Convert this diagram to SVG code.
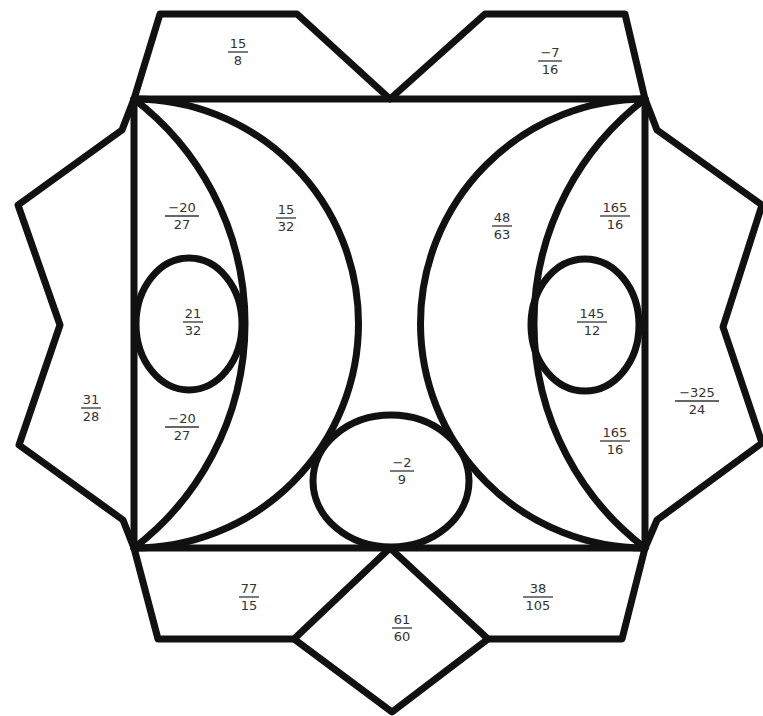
<svg xmlns="http://www.w3.org/2000/svg" width="763" height="716" viewBox="0 0 763 716">
<style>
.s{fill:none;stroke:#111;stroke-width:7;stroke-linejoin:round;stroke-linecap:round}
.t{font-family:"DejaVu Sans",sans-serif;font-size:13px;fill:#333;text-anchor:middle}
.b{stroke:#333;stroke-width:1.3}
</style>
<rect width="763" height="716" fill="#fff"/>
<g id="shapes" class="s">
<path d="M134,99 L160,14 L297,14 L390,99 L485,14 L625,14 L645,99"/>
<rect x="134" y="99" width="511" height="449"/>
<path d="M134,99 L122,130 L18,205 L60,325 L19,445 L123,520 L134,548"/>
<path d="M645,99 L657,130 L762,205 L723,327 L762,443 L657,520 L645,548"/>
<path d="M134,548 L158,639 L294,639 L390,548 L488,639 L622,639 L645,548"/>
<path d="M294,639 L392,712 L488,639"/>
<path d="M134,99 A282.5,282.5 0 0 1 134,548"/>
<path d="M134,99 A224.5,224.5 0 0 1 134,548"/>
<path d="M645,99 A282.5,282.5 0 0 0 645,548"/>
<path d="M645,99 A224.5,224.5 0 0 0 645,548"/>
<ellipse cx="189" cy="324" rx="53" ry="66"/>
<ellipse cx="585" cy="325" rx="54" ry="66"/>
<ellipse cx="391" cy="481" rx="78" ry="66"/>
</g>
<g id="labels">
<g><text class="t" x="238" y="48">15</text><line class="b" x1="228" y1="52" x2="248" y2="52"/><text class="t" x="238" y="65">8</text></g>
<g><text class="t" x="550" y="57">−7</text><line class="b" x1="538" y1="61" x2="562" y2="61"/><text class="t" x="550" y="74">16</text></g>
<g><text class="t" x="182" y="212">−20</text><line class="b" x1="165" y1="216" x2="199" y2="216"/><text class="t" x="182" y="229">27</text></g>
<g><text class="t" x="286" y="214">15</text><line class="b" x1="276" y1="218" x2="296" y2="218"/><text class="t" x="286" y="231">32</text></g>
<g><text class="t" x="193" y="318">21</text><line class="b" x1="183" y1="322" x2="203" y2="322"/><text class="t" x="193" y="335">32</text></g>
<g><text class="t" x="91" y="404">31</text><line class="b" x1="81" y1="408" x2="101" y2="408"/><text class="t" x="91" y="421">28</text></g>
<g><text class="t" x="182" y="423">−20</text><line class="b" x1="165" y1="427" x2="199" y2="427"/><text class="t" x="182" y="440">27</text></g>
<g><text class="t" x="502" y="222">48</text><line class="b" x1="492" y1="226" x2="512" y2="226"/><text class="t" x="502" y="239">63</text></g>
<g><text class="t" x="615" y="212">165</text><line class="b" x1="600" y1="216" x2="630" y2="216"/><text class="t" x="615" y="229">16</text></g>
<g><text class="t" x="592" y="318">145</text><line class="b" x1="577" y1="322" x2="607" y2="322"/><text class="t" x="592" y="335">12</text></g>
<g><text class="t" x="697" y="397">−325</text><line class="b" x1="675" y1="401" x2="719" y2="401"/><text class="t" x="697" y="414">24</text></g>
<g><text class="t" x="615" y="437">165</text><line class="b" x1="600" y1="441" x2="630" y2="441"/><text class="t" x="615" y="454">16</text></g>
<g><text class="t" x="402" y="467">−2</text><line class="b" x1="390" y1="471" x2="414" y2="471"/><text class="t" x="402" y="484">9</text></g>
<g><text class="t" x="249" y="593">77</text><line class="b" x1="239" y1="597" x2="259" y2="597"/><text class="t" x="249" y="610">15</text></g>
<g><text class="t" x="538" y="593">38</text><line class="b" x1="523" y1="597" x2="553" y2="597"/><text class="t" x="538" y="610">105</text></g>
<g><text class="t" x="402" y="624">61</text><line class="b" x1="392" y1="628" x2="412" y2="628"/><text class="t" x="402" y="641">60</text></g>
</g>
</svg>
